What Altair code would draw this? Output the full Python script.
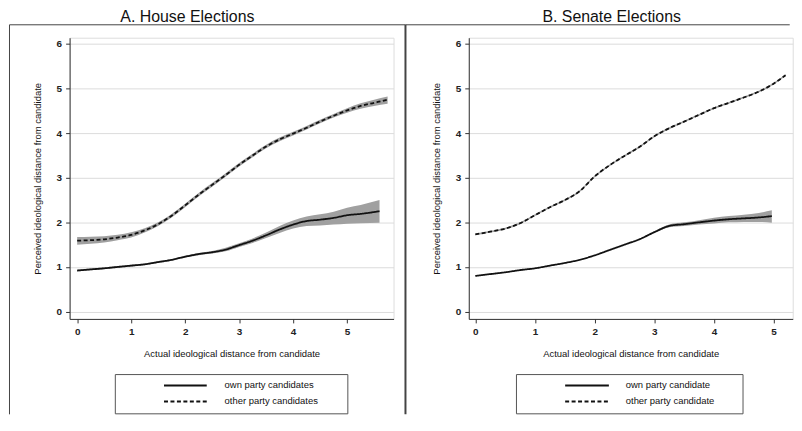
import altair as alt
import pandas as pd

FONT = "Liberation Sans"

# ---------------- data ----------------
house_title = "A. House Elections"
senate_title = "B. Senate Elections"
x_title = "Actual ideological distance from candidate"
y_title = "Perceived ideological distance from candidate"

house_own_label = "own party candidates"
house_other_label = "other party candidates"
senate_own_label = "own party candidate"
senate_other_label = "other party candidate"

house_x_ticks = [0, 1, 2, 3, 4, 5]
senate_x_ticks = [0, 1, 2, 3, 4, 5]
y_ticks = [0, 1, 2, 3, 4, 5, 6]

# House, own party (solid)
house_own_x = [0, 0.25, 0.5, 0.75, 1, 1.25, 1.5, 1.75, 2, 2.25, 2.5, 2.75, 3, 3.25, 3.5, 3.75, 4, 4.25, 4.5, 4.75, 5, 5.25, 5.6]
house_own_y = [0.92, 0.945, 0.97, 1.0, 1.03, 1.06, 1.11, 1.16, 1.23, 1.29, 1.33, 1.39, 1.49, 1.59, 1.71, 1.84, 1.95, 2.03, 2.06, 2.10, 2.16, 2.19, 2.25]
house_own_lo = [0.90, 0.925, 0.95, 0.98, 1.01, 1.04, 1.09, 1.14, 1.21, 1.265, 1.30, 1.35, 1.45, 1.54, 1.65, 1.76, 1.86, 1.92, 1.93, 1.95, 1.97, 1.98, 1.99]
house_own_hi = [0.94, 0.965, 0.99, 1.02, 1.05, 1.08, 1.13, 1.18, 1.25, 1.315, 1.36, 1.43, 1.53, 1.64, 1.77, 1.92, 2.04, 2.13, 2.18, 2.24, 2.33, 2.39, 2.50]

# House, other party (dashed)
house_other_x = [0, 0.25, 0.5, 0.75, 1, 1.25, 1.5, 1.75, 2, 2.25, 2.5, 2.75, 3, 3.25, 3.5, 3.75, 4, 4.25, 4.5, 4.75, 5, 5.25, 5.5, 5.75]
house_other_y = [1.59, 1.60, 1.62, 1.66, 1.72, 1.82, 1.96, 2.15, 2.38, 2.62, 2.84, 3.06, 3.29, 3.50, 3.70, 3.86, 3.99, 4.12, 4.26, 4.39, 4.51, 4.61, 4.68, 4.75]
house_other_lo = [1.50, 1.52, 1.55, 1.60, 1.66, 1.77, 1.92, 2.11, 2.34, 2.58, 2.80, 3.02, 3.25, 3.46, 3.66, 3.82, 3.95, 4.08, 4.22, 4.35, 4.46, 4.55, 4.61, 4.66]
house_other_hi = [1.67, 1.68, 1.69, 1.72, 1.78, 1.87, 2.00, 2.19, 2.42, 2.66, 2.88, 3.10, 3.33, 3.54, 3.74, 3.90, 4.03, 4.16, 4.30, 4.43, 4.56, 4.67, 4.75, 4.82]

# Senate, own party (solid)
senate_own_x = [0, 0.25, 0.5, 0.75, 1, 1.25, 1.5, 1.75, 2, 2.25, 2.5, 2.75, 3, 3.25, 3.5, 3.75, 4, 4.25, 4.5, 4.75, 4.97]
senate_own_y = [0.80, 0.84, 0.88, 0.93, 0.97, 1.03, 1.09, 1.16, 1.26, 1.38, 1.50, 1.62, 1.78, 1.92, 1.96, 2.00, 2.04, 2.07, 2.09, 2.11, 2.14]
senate_own_lo = [0.79, 0.83, 0.87, 0.92, 0.96, 1.02, 1.08, 1.15, 1.25, 1.37, 1.49, 1.61, 1.76, 1.89, 1.92, 1.95, 1.975, 2.00, 2.01, 2.01, 1.99]
senate_own_hi = [0.81, 0.85, 0.89, 0.94, 0.98, 1.04, 1.10, 1.17, 1.27, 1.39, 1.51, 1.63, 1.80, 1.95, 2.00, 2.05, 2.105, 2.14, 2.17, 2.21, 2.27]

# Senate, other party (dashed)
senate_other_x = [0, 0.25, 0.5, 0.75, 1, 1.25, 1.5, 1.75, 2, 2.25, 2.5, 2.75, 3, 3.25, 3.5, 3.75, 4, 4.25, 4.5, 4.75, 5, 5.2]
senate_other_y = [1.73, 1.79, 1.86, 1.98, 2.16, 2.34, 2.50, 2.70, 3.03, 3.28, 3.49, 3.69, 3.93, 4.11, 4.26, 4.41, 4.56, 4.68, 4.80, 4.93, 5.11, 5.30]
senate_other_lo = [1.71, 1.77, 1.84, 1.96, 2.14, 2.32, 2.48, 2.68, 3.01, 3.26, 3.47, 3.67, 3.91, 4.09, 4.24, 4.39, 4.54, 4.66, 4.78, 4.91, 5.09, 5.28]
senate_other_hi = [1.75, 1.81, 1.88, 2.00, 2.18, 2.36, 2.52, 2.72, 3.05, 3.30, 3.51, 3.71, 3.95, 4.13, 4.28, 4.43, 4.58, 4.70, 4.82, 4.95, 5.13, 5.32]


def frame(x, y, lo, hi, label):
    return pd.DataFrame({"x": x, "y": y, "lo": lo, "hi": hi, "series": label})


one = pd.DataFrame({"k": [0]})


def deco_rule(x, x2, y, y2=None, width=1.0, dash=None, color="#444"):
    kw = dict(color=color, strokeWidth=width)
    if dash is not None:
        kw["strokeDash"] = dash
    enc = dict(x=alt.value(x), y=alt.value(y))
    if x2 is not None:
        enc["x2"] = alt.value(x2)
    if y2 is not None:
        enc["y2"] = alt.value(y2)
    return alt.Chart(one).mark_rule(**kw).encode(**enc)


def deco_text(txt, x, y, size, align="left", baseline="middle"):
    return alt.Chart(one).mark_text(
        text=txt, align=align, baseline=baseline,
        font=FONT, fontSize=size, color="#111"
    ).encode(x=alt.value(x), y=alt.value(y))


def panel(own_df, other_df, own_label, other_label, xdom, xticks, title,
          title_x, width, height, left_border, border_w, top_end, leg):
    df = pd.concat([own_df, other_df], ignore_index=True)
    xs = alt.Scale(domain=xdom, nice=False, zero=False)
    ys = alt.Scale(domain=[-0.165, 6.14], nice=False, zero=False)
    xaxis = alt.Axis(values=xticks, format="d", grid=False, tickSize=4,
                     labelFont=FONT, labelFontSize=10, labelFontWeight="bold",
                     labelColor="#222", labelPadding=4, domainColor="#333",
                     tickColor="#333", title=x_title, titleFont=FONT,
                     titleFontSize=9.5, titleFontWeight="normal",
                     titleColor="#111", titlePadding=12)
    yaxis = alt.Axis(values=y_ticks, format="d", grid=True, gridColor="#dcdcdc",
                     tickSize=4, labelFont=FONT, labelFontSize=10,
                     labelFontWeight="bold", labelColor="#222", labelPadding=4,
                     domainColor="#333", tickColor="#333", title=y_title,
                     titleFont=FONT, titleFontSize=9.5, titleFontWeight="normal",
                     titleColor="#111", titlePadding=14)
    base = alt.Chart(df)
    band = base.mark_area(color="#a0a0a0", opacity=1, interpolate="monotone").encode(
        x=alt.X("x:Q", scale=xs, axis=xaxis),
        y=alt.Y("lo:Q", scale=ys, axis=yaxis),
        y2="hi:Q",
        detail="series:N",
    )
    line = base.mark_line(color="#111", strokeWidth=1.8, interpolate="monotone").encode(
        x=alt.X("x:Q", scale=xs),
        y=alt.Y("y:Q", scale=ys),
        strokeDash=alt.StrokeDash("series:N", scale=alt.Scale(
            domain=[own_label, other_label], range=[[1, 0], [4, 2.5]]), legend=None),
    )
    lx0, lx1, ly0, ly1, sx0, sx1, tx = leg
    box = alt.Chart(one).mark_rect(fillOpacity=0, stroke="#555", strokeWidth=1).encode(
        x=alt.value(lx0), x2=alt.value(lx1), y=alt.value(ly0), y2=alt.value(ly1))
    row1 = ly0 + 11
    row2 = ly0 + 27
    layers = [
        band, line,
        deco_rule(left_border, top_end, -13),
        deco_rule(left_border, None, -13, 379, width=border_w),
        box,
        deco_rule(sx0, sx1, row1, width=2, color="#111"),
        deco_rule(sx0, sx1, row2, width=2, dash=[4, 2.5], color="#111"),
        deco_text(own_label, tx, row1, 9.5),
        deco_text(other_label, tx, row2, 9.5),
        deco_text(title, title_x, -29, 16, align="center", baseline="top"),
    ]
    return alt.layer(*layers).properties(width=width, height=height)


left = panel(
    frame(house_own_x, house_own_y, house_own_lo, house_own_hi, house_own_label),
    frame(house_other_x, house_other_y, house_other_lo, house_other_hi, house_other_label),
    house_own_label, house_other_label, [-0.14, 5.86], house_x_ticks, house_title,
    118.5, 326, 283, -60.5, 1.0, 338, (46, 280, 339, 378.5, 95, 138, 156),
)
right = panel(
    frame(senate_own_x, senate_own_y, senate_own_lo, senate_own_hi, senate_own_label),
    frame(senate_other_x, senate_other_y, senate_other_lo, senate_other_hi, senate_other_label),
    senate_own_label, senate_other_label, [-0.11, 5.32], senate_x_ticks, senate_title,
    143.8, 326, 283, -63.7, 2.0, 323, (48, 276, 339, 378.5, 97, 141, 158),
)

chart = alt.hconcat(
    left, right, spacing=75.7, bounds="flush",
    padding={"left": 0, "top": -1.4, "right": 0, "bottom": 0},
).configure_view(stroke=None).configure(background="white")

chart.save("out.html", embed_options={"renderer": "svg", "actions": False})
